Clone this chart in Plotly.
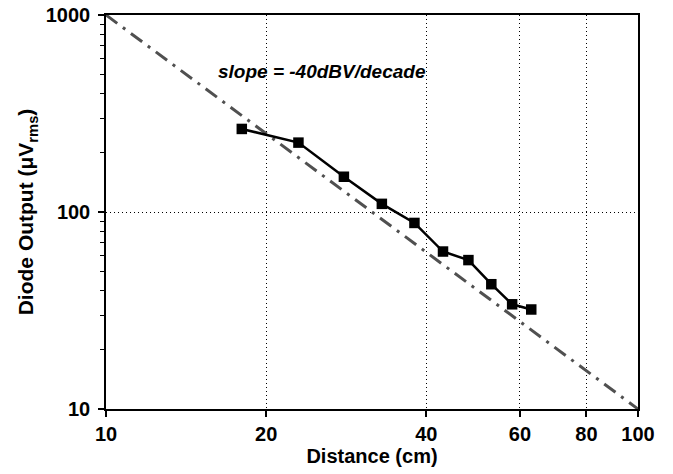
import plotly.graph_objects as go

# Measured data
distance_cm = [18, 23, 28, 33, 38, 43, 48, 53, 58, 63]
diode_uv = [264, 225, 151, 110, 88, 63, 57, 43, 34, 32]

# Reference slope line (-40 dBV/decade)
ref_x = [10, 100]
ref_y = [1000, 10]

x_ticks = [10, 20, 40, 60, 80, 100]
y_ticks = [10, 100, 1000]
y_minor = [20, 30, 40, 50, 60, 70, 80, 90, 200, 300, 400, 500, 600, 700, 800, 900]

FONT = "Liberation Sans, Arial, sans-serif"

fig = go.Figure()
fig.add_trace(go.Scatter(
    x=ref_x, y=ref_y, mode="lines",
    line=dict(color="#505050", width=3, dash="14px,7px,3px,7px"),
    showlegend=False, hoverinfo="skip"))
fig.add_trace(go.Scatter(
    x=distance_cm, y=diode_uv, mode="lines+markers",
    line=dict(color="black", width=2.5),
    marker=dict(symbol="square", size=10.5, color="black"),
    showlegend=False))

fig.add_annotation(
    x=0.406, y=0.888, xref="paper", yref="paper",
    text="<b><i>slope = -40dBV/decade</i></b>",
    showarrow=False, font=dict(family=FONT, size=19, color="black"))

axis_common = dict(
    type="log", showline=True, linecolor="black", linewidth=1.5, mirror=True,
    ticks="outside", ticklen=6, tickwidth=1.5, tickcolor="black",
    showgrid=True, gridcolor="black", gridwidth=1, griddash="1px,3px",
    zeroline=False, automargin=False,
    tickfont=dict(family=FONT, size=20, color="black"),
)

fig.update_layout(
    width=673, height=474,
    margin=dict(l=106, r=35, t=15, b=65),
    plot_bgcolor="white", paper_bgcolor="white",
    font=dict(family=FONT, color="black"),
    xaxis=dict(
        **axis_common, range=[1, 2], tickmode="array", tickvals=x_ticks,
        ticktext=["<b>%d</b>" % v for v in x_ticks],
        title=dict(text="<b>Distance (cm)</b>", font=dict(family=FONT, size=20), standoff=2),
    ),
    yaxis=dict(
        **axis_common, range=[1, 3], tickmode="array", tickvals=y_ticks,
        ticktext=["<b>%d</b>" % v for v in y_ticks],
        ticklabelstandoff=4,
        minor=dict(tickmode="array", tickvals=y_minor, ticks="outside", ticklen=4,
                   tickwidth=1, tickcolor="black", showgrid=False),
        title=dict(text="<b>Diode Output (μV<sub>rms</sub>)</b>", font=dict(family=FONT, size=21), standoff=6),
    ),
)

fig.write_html("out.html", config={"displayModeBar": False},
               post_script="document.body.style.margin='0';")
